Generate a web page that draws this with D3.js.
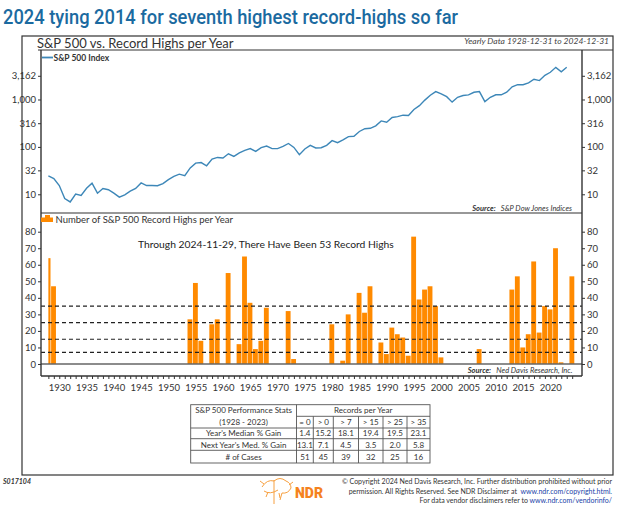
<!DOCTYPE html>
<html><head><meta charset="utf-8">
<script src="https://cdn.jsdelivr.net/npm/d3@7"></script>
<style>
body{margin:0;background:#fff}
svg{display:block}
text{font-family:Lato,"Open Sans",sans-serif;fill:#333}
</style>
</head><body>
<svg id="chart" width="624" height="506"></svg>
<script>
// ---------------- DATA ----------------
const lineYears = [1928,1929,1930,1931,1932,1933,1934,1935,1936,1937,1938,1939,1940,1941,1942,1943,1944,1945,1946,1947,1948,1949,1950,1951,1952,1953,1954,1955,1956,1957,1958,1959,1960,1961,1962,1963,1964,1965,1966,1967,1968,1969,1970,1971,1972,1973,1974,1975,1976,1977,1978,1979,1980,1981,1982,1983,1984,1985,1986,1987,1988,1989,1990,1991,1992,1993,1994,1995,1996,1997,1998,1999,2000,2001,2002,2003,2004,2005,2006,2007,2008,2009,2010,2011,2012,2013,2014,2015,2016,2017,2018,2019,2020,2021,2022,2023];
const sp500 = [24.35,21.45,15.34,8.12,6.89,10.10,9.50,13.43,17.18,10.55,13.21,12.49,10.58,8.69,9.77,11.67,13.28,17.36,15.30,15.30,15.20,16.76,20.41,23.77,26.57,24.81,35.98,45.48,46.67,39.99,55.21,59.89,58.11,71.55,63.10,75.02,84.75,92.43,80.33,96.47,103.86,92.06,92.15,102.09,118.05,97.55,68.56,90.19,107.46,95.10,96.11,107.94,135.76,122.55,140.64,164.93,167.24,211.28,242.17,247.08,277.72,353.40,330.22,417.09,435.71,466.45,459.27,615.93,740.74,970.43,1229.23,1469.25,1320.28,1148.08,879.82,1111.92,1211.92,1248.29,1418.30,1468.36,903.25,1115.10,1257.64,1257.60,1426.19,1848.36,2058.90,2043.94,2238.83,2673.61,2506.85,3230.78,3756.07,4766.18,3839.50,4769.83];

const barYears = [1928,1929,1930,1931,1932,1933,1934,1935,1936,1937,1938,1939,1940,1941,1942,1943,1944,1945,1946,1947,1948,1949,1950,1951,1952,1953,1954,1955,1956,1957,1958,1959,1960,1961,1962,1963,1964,1965,1966,1967,1968,1969,1970,1971,1972,1973,1974,1975,1976,1977,1978,1979,1980,1981,1982,1983,1984,1985,1986,1987,1988,1989,1990,1991,1992,1993,1994,1995,1996,1997,1998,1999,2000,2001,2002,2003,2004,2005,2006,2007,2008,2009,2010,2011,2012,2013,2014,2015,2016,2017,2018,2019,2020,2021,2022,2023,2024];
const recordHighs = [64,47,0,0,0,0,0,0,0,0,0,0,0,0,0,0,0,0,0,0,0,0,0,0,0,0,27,49,14,0,24,27,0,55,0,12,65,37,9,14,34,0,0,0,32,3,0,0,0,0,0,0,24,0,2,30,0,43,31,47,0,13,6,22,18,16,5,77,39,45,47,35,4,0,0,0,0,0,0,9,0,0,0,0,0,45,53,10,18,62,19,35,33,70,1,0,53];

const thresholds = [7,15,25,35];
const topTicks = [10,32,100,316,1000,3162];
const topTickLabels = ["10","32","100","316","1,000","3,162"];
const bottomTicks = [0,10,20,30,40,50,60,70,80];
const xLabelYears = [1930,1935,1940,1945,1950,1955,1960,1965,1970,1975,1980,1985,1990,1995,2000,2005,2010,2015,2020];

const tableCols = ["= 0","> 0","> 7","> 15","> 25","> 35"];
const medianGain = ["1.4","15.2","18.1","19.4","19.5","23.1"];
const nextYearGain = ["13.1","7.1","4.5","3.5","2.0","5.8"];
const cases = ["51","45","39","32","25","16"];

// ---------------- LAYOUT ----------------
const svg = d3.select("#chart");
const L = 41, R = 582;
const topY0 = 50, topY1 = 213, botY0 = 213, botY1 = 376;
const blue = "#3d87b8", orange = "#ff8a00";

const x = d3.scaleLinear().domain([1926.65, 2025.8]).range([L, R]);
const yTop = d3.scaleLog().domain([4.03, 11070]).range([topY1, topY0]);
const yBot = d3.scaleLinear().domain([-7.26, 91.3]).range([botY1, botY0]);

// Title
svg.append("text").attr("x",3).attr("y",24)
  .attr("textLength",455).attr("lengthAdjust","spacingAndGlyphs")
  .style("font-family","Roboto, sans-serif").style("font-size","21px").style("font-weight","500")
  .style("fill","#1b6aa0")
  .text("2024 tying 2014 for seventh highest record-highs so far");

// Frame
svg.append("rect").attr("x",22).attr("y",36).attr("width",591).attr("height",439)
  .attr("fill","none").attr("stroke","#333").attr("stroke-width",1.2);
svg.append("line").attr("x1",38).attr("x2",613).attr("y1",50).attr("y2",50).attr("stroke","#333").attr("stroke-width",1.2);

svg.append("text").attr("x",37).attr("y",47.5).style("font-size","13px").text("S&P 500 vs. Record Highs per Year");
svg.append("text").attr("x",609).attr("y",44).attr("text-anchor","end")
  .style("font-size","8.5px").style("font-style","italic").style("fill","#444")
  .text("Yearly Data 1928-12-31 to 2024-12-31");

// ---------- Top panel ----------
const gTop = svg.append("g");
gTop.append("line").attr("x1",L).attr("x2",R).attr("y1",topY1).attr("y2",topY1).attr("stroke","#333").attr("stroke-width",1.2);
const axL = d3.axisLeft(yTop).tickValues(topTicks).tickFormat((d,i)=>topTickLabels[i]).tickSize(3).tickPadding(2);
const axR = d3.axisRight(yTop).tickValues(topTicks).tickFormat((d,i)=>topTickLabels[i]).tickSize(3).tickPadding(2);
function styleAxis(g){
  g.select(".domain").remove();
  g.selectAll(".tick line").attr("stroke","#333");
  g.selectAll(".tick text").style("font-family","Lato, sans-serif").style("font-size","9.5px").attr("fill","#333");
}
gTop.append("g").attr("transform",`translate(${L},0)`).call(axL).call(styleAxis);
gTop.append("g").attr("transform",`translate(${R},0)`).call(axR).call(styleAxis);

const line = d3.line().x((d,i)=>x(lineYears[i])).y(d=>yTop(d));
gTop.append("path").datum(sp500).attr("d",line).attr("fill","none").attr("stroke",blue).attr("stroke-width",1.4);

// legend top
svg.append("line").attr("x1",42).attr("x2",53).attr("y1",57.5).attr("y2",57.5).attr("stroke",blue).attr("stroke-width",1.8);
svg.append("text").attr("x",53.5).attr("y",60.5).style("font-size","8.5px").style("font-weight","700").style("fill","#333").text("S&P 500 Index");

// source top
const s1 = svg.append("text").attr("x",572).attr("y",210.5).attr("text-anchor","end").style("font-size","7.5px").style("font-style","italic");
s1.append("tspan").style("font-weight","700").text("Source:");
s1.append("tspan").text("\u00a0\u00a0\u00a0S&P Dow Jones Indices");

// ---------- Bottom panel ----------
const gBot = svg.append("g");
const step = x(1929) - x(1928);
const startX = x(barYears[0]);
gBot.selectAll("rect.bar").data(barYears.map((yr,i)=>({yr,v:recordHighs[i]})).filter(d=>d.v>0))
  .enter().append("rect").attr("class","bar")
  .attr("x",d=>Math.max(x(d.yr)-step/2, startX))
  .attr("width",d=>x(d.yr)+step/2-Math.max(x(d.yr)-step/2,startX)-0.6)
  .attr("y",d=>yBot(d.v)).attr("height",d=>yBot(0)-yBot(d.v))
  .attr("fill",orange);

// zero line
gBot.append("line").attr("x1",L).attr("x2",R).attr("y1",yBot(0)).attr("y2",yBot(0)).attr("stroke","#666").attr("stroke-width",1.5);
// thresholds
gBot.selectAll("line.th").data(thresholds).enter().append("line").attr("class","th")
  .attr("x1",L).attr("x2",R).attr("y1",d=>yBot(d)).attr("y2",d=>yBot(d))
  .attr("stroke","#222").attr("stroke-width",1.1).attr("stroke-dasharray","4,3");

const bL = d3.axisLeft(yBot).tickValues(bottomTicks).tickSize(3).tickPadding(2);
const bR = d3.axisRight(yBot).tickValues(bottomTicks).tickSize(3).tickPadding(2);
gBot.append("g").attr("transform",`translate(${L},0)`).call(bL).call(styleAxis);
gBot.append("g").attr("transform",`translate(${R},0)`).call(bR).call(styleAxis);

// x axis
const xAx = d3.axisBottom(x).tickValues(barYears).tickSize(3).tickFormat(d=>xLabelYears.includes(d)?d:"");
gBot.append("g").attr("transform",`translate(0,${botY1})`).call(xAx).call(g=>{
  g.select(".domain").remove();
  g.selectAll(".tick line").attr("stroke","#333");
  g.selectAll(".tick text").style("font-family","Lato, sans-serif").style("font-size","9.5px").attr("fill","#333").attr("dy","0.9em");
});

// axis lines
svg.append("line").attr("x1",L).attr("x2",L).attr("y1",topY0).attr("y2",botY1).attr("stroke","#333").attr("stroke-width",1.4);
svg.append("line").attr("x1",R).attr("x2",R).attr("y1",topY0).attr("y2",botY1).attr("stroke","#333").attr("stroke-width",1.4);
svg.append("line").attr("x1",L).attr("x2",R).attr("y1",botY1).attr("y2",botY1).attr("stroke","#333").attr("stroke-width",1.4);

// legend bottom
svg.append("rect").attr("x",41).attr("y",217.5).attr("width",12).attr("height",4.5).attr("fill",orange);
svg.append("rect").attr("x",45).attr("y",215).attr("width",5).attr("height",7).attr("fill",orange);
svg.append("text").attr("x",55.5).attr("y",222.5).style("font-size","9.5px").text("Number of S&P 500 Record Highs per Year");

svg.append("text").attr("x",138).attr("y",248).style("font-size","10.3px").style("fill","#222")
  .text("Through 2024-11-29, There Have Been 53 Record Highs");

const s2 = svg.append("text").attr("x",572.5).attr("y",372.5).attr("text-anchor","end").style("font-size","7.5px").style("font-style","italic");
s2.append("tspan").style("font-weight","700").text("Source:");
s2.append("tspan").text("\u00a0\u00a0\u00a0Ned Davis Research, Inc.");

// ---------- Table ----------
const colX = [190.7, 296.5, 313.3, 333.3, 358.5, 383, 407, 430];
const rowY = [404.7, 416.3, 428, 438.7, 450.3, 463];
const tb = svg.append("g").attr("stroke","#555").attr("stroke-width",0.9);
tb.append("rect").attr("x",colX[0]).attr("y",rowY[0]).attr("width",colX[7]-colX[0]).attr("height",rowY[5]-rowY[0]).attr("fill","none");
tb.append("line").attr("x1",colX[1]).attr("x2",colX[7]).attr("y1",rowY[1]).attr("y2",rowY[1]);
[2,3,4].forEach(r=>tb.append("line").attr("x1",colX[0]).attr("x2",colX[7]).attr("y1",rowY[r]).attr("y2",rowY[r]));
tb.append("line").attr("x1",colX[1]).attr("x2",colX[1]).attr("y1",rowY[0]).attr("y2",rowY[5]);
[2,3,4,5,6].forEach(c=>tb.append("line").attr("x1",colX[c]).attr("x2",colX[c]).attr("y1",rowY[1]).attr("y2",rowY[5]));
const tf = "8px";
const cx0 = (colX[0]+colX[1])/2;
svg.append("text").attr("x",cx0).attr("y",413.3).attr("text-anchor","middle").style("font-size",tf).text("S&P 500 Performance Stats");
svg.append("text").attr("x",cx0).attr("y",425).attr("text-anchor","middle").style("font-size",tf).text("(1928 - 2023)");
svg.append("text").attr("x",(colX[1]+colX[7])/2).attr("y",413.3).attr("text-anchor","middle").style("font-size",tf).text("Records per Year");
const rows = [tableCols, medianGain, nextYearGain, cases];
const rowLabels = [null,"Year's Median % Gain","Next Year's Med. % Gain","# of Cases"];
rows.forEach((vals,r)=>{
  const yy = (rowY[r+1]+rowY[r+2])/2 + 3;
  if(rowLabels[r]) svg.append("text").attr("x",cx0).attr("y",yy).attr("text-anchor","middle").style("font-size",tf).text(rowLabels[r]);
  vals.forEach((v,c)=>{
    svg.append("text").attr("x",(colX[c+1]+colX[c+2])/2).attr("y",yy).attr("text-anchor","middle").style("font-size",tf).text(v);
  });
});

// ---------- Footer ----------
svg.append("text").attr("x",3).attr("y",484).style("font-size","7px").style("font-weight","700").style("font-style","italic").text("S017104");
const ff = "7px";
svg.append("text").attr("x",612).attr("y",484).attr("text-anchor","end").style("font-size",ff).text("\u00a9 Copyright 2024 Ned Davis Research, Inc. Further distribution prohibited without prior");
const f2 = svg.append("text").attr("x",612).attr("y",493.5).attr("text-anchor","end").style("font-size",ff);
f2.append("tspan").text("permission. All Rights Reserved. See NDR Disclaimer at\u00a0\u00a0");
f2.append("tspan").style("fill","#1a3fa8").text("www.ndr.com/copyright.html.");
const f3 = svg.append("text").attr("x",612).attr("y",503).attr("text-anchor","end").style("font-size",ff);
f3.append("tspan").text("For data vendor disclaimers refer to ");
f3.append("tspan").style("fill","#1a3fa8").text("www.ndr.com/vendorinfo/");
// logo
const lg = svg.append("g").attr("fill","none").attr("stroke","#f7a040").attr("stroke-width",1);
lg.append("path").attr("d","M262,487 q5,-8 12,-6 q6,-5 12,0 q5,2 5,7 q-3,6 -9,5 l-2,7 m-6,-20 l0,24 m-10,-13 q6,4 14,-1 M264,484 l-4,-3 M289,485 l4,-3 M268,492 l-2,5 M279,493 l1,5");
svg.append("text").attr("x",295).attr("y",497.5).style("font-family","Roboto, sans-serif").style("font-size","14px").style("font-weight","900").style("fill","#f58220").text("NDR");
</script>
</body></html>
